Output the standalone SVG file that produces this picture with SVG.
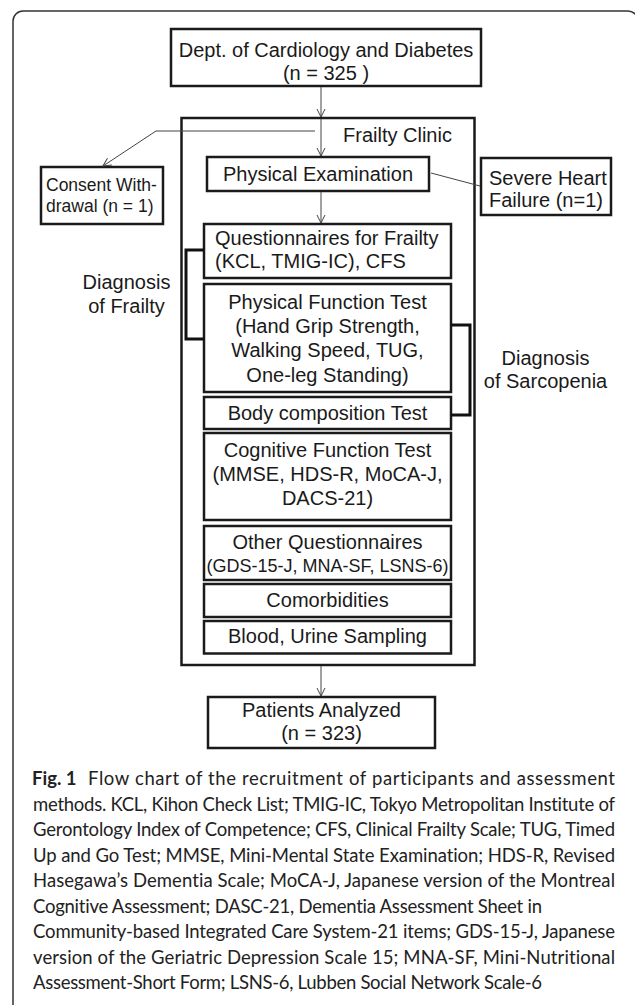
<svg xmlns="http://www.w3.org/2000/svg" width="635" height="1005" viewBox="0 0 635 1005">
<defs>
<marker id="arr" markerUnits="userSpaceOnUse" markerWidth="12" markerHeight="12" refX="9" refY="5" orient="auto"><path d="M1,1 L9,5 L1,9" fill="none" stroke="#444" stroke-width="1"/></marker>
</defs>
<style>
.box{fill:#fff;stroke:#1a1a1a;stroke-width:2.5}
.t{font-family:"Liberation Sans",Arial,sans-serif;font-size:20px;fill:#1a1a1a}
.s{font-size:17.5px}
.c{text-anchor:middle}
.ln{fill:none;stroke:#444;stroke-width:1}
.br{fill:none;stroke:#111;stroke-width:3}
.cap{font-family:Lato,"Open Sans",sans-serif;font-size:18.5px;fill:#222;font-variant-ligatures:none}
.b{font-weight:bold}
</style>
<rect x="0" y="0" width="635" height="1005" fill="#fff"/>
<rect id="frame" x="13" y="11" width="625" height="1030" rx="10" fill="none" stroke="#333" stroke-width="1.5"/>

<g id="frailty-clinic">
<rect class="box" x="181.5" y="118" width="293" height="547"/>
<text class="t" x="343" y="142">Frailty Clinic</text>
</g>

<g id="dept">
<rect class="box" x="171" y="29" width="310" height="57"/>
<text class="t c" x="326" y="57">Dept. of Cardiology and Diabetes</text>
<text class="t c" x="326" y="80">(n = 325 )</text>
</g>

<g id="consent">
<rect class="box" x="41" y="167" width="122" height="57"/>
<text class="t s" x="46" y="191">Consent With-</text>
<text class="t s" x="46" y="212">drawal (n = 1)</text>
</g>

<g id="physical-exam">
<rect class="box" x="207" y="157" width="222" height="34"/>
<text class="t c" x="318" y="181">Physical Examination</text>
</g>

<g id="severe">
<rect class="box" x="481" y="158" width="130" height="57"/>
<text class="t" x="489" y="185">Severe Heart</text>
<text class="t" x="489" y="207">Failure (n=1)</text>
</g>

<g id="questionnaires">
<rect class="box" x="204" y="224" width="247" height="54"/>
<text class="t" x="215" y="245">Questionnaires for Frailty</text>
<text class="t" x="215" y="268">(KCL, TMIG-IC), CFS</text>
</g>

<g id="physical-function">
<rect class="box" x="204" y="284" width="247" height="108"/>
<text class="t c" x="327.5" y="309">Physical Function Test</text>
<text class="t c" x="327.5" y="333">(Hand Grip Strength,</text>
<text class="t c" x="327.5" y="357">Walking Speed, TUG,</text>
<text class="t c" x="327.5" y="382">One-leg Standing)</text>
</g>

<g id="body-composition">
<rect class="box" x="204" y="397" width="247" height="32"/>
<text class="t c" x="327.5" y="420">Body composition Test</text>
</g>

<g id="cognitive">
<rect class="box" x="204" y="433" width="247" height="87"/>
<text class="t c" x="327.5" y="457">Cognitive Function Test</text>
<text class="t c" x="327.5" y="481">(MMSE, HDS-R, MoCA-J,</text>
<text class="t c" x="327.5" y="505">DACS-21)</text>
</g>

<g id="other-questionnaires">
<rect class="box" x="204" y="526" width="247" height="54"/>
<text class="t c" x="327.5" y="549">Other Questionnaires</text>
<text class="t c" x="327.5" y="572" style="font-size:18px">(GDS-15-J, MNA-SF, LSNS-6)</text>
</g>

<g id="comorbidities">
<rect class="box" x="204" y="584" width="247" height="33"/>
<text class="t c" x="327.5" y="607">Comorbidities</text>
</g>

<g id="blood">
<rect class="box" x="204" y="621" width="247" height="32.5"/>
<text class="t c" x="327.5" y="643">Blood, Urine Sampling</text>
</g>

<g id="patients">
<rect class="box" x="208" y="697" width="227" height="51"/>
<text class="t c" x="321.5" y="717">Patients Analyzed</text>
<text class="t c" x="321.5" y="740">(n = 323)</text>
</g>

<g id="diag-frailty">
<polyline class="br" points="204,250 186,250 186,339 204,339"/>
<text class="t c" x="126.5" y="289">Diagnosis</text>
<text class="t c" x="126.5" y="313">of Frailty</text>
</g>

<g id="diag-sarcopenia">
<polyline class="br" points="451,325 470,325 470,415 451,415"/>
<text class="t c" x="545.5" y="365">Diagnosis</text>
<text class="t c" x="545.5" y="388">of Sarcopenia</text>
</g>

<g id="connectors">
<line class="ln" x1="321" y1="87" x2="321" y2="117" marker-end="url(#arr)"/>
<line class="ln" x1="321" y1="119" x2="321" y2="156" marker-end="url(#arr)"/>
<line class="ln" x1="321" y1="192" x2="321" y2="223" marker-end="url(#arr)"/>
<line class="ln" x1="321" y1="666" x2="321" y2="696" marker-end="url(#arr)"/>
<polyline class="ln" points="315,131 156,131 103,166" marker-end="url(#arr)"/>
<line class="ln" x1="431" y1="173" x2="480" y2="186"/>
</g>

<g id="caption">
<text class="cap b" x="32" y="785">Fig. 1</text>
<text class="cap" x="88" y="785" textLength="527">Flow chart of the recruitment of participants and assessment</text>
<text class="cap" x="33" y="810.5" textLength="582">methods. KCL, Kihon Check List; TMIG-IC, Tokyo Metropolitan Institute of</text>
<text class="cap" x="33" y="836" textLength="582">Gerontology Index of Competence; CFS, Clinical Frailty Scale; TUG, Timed</text>
<text class="cap" x="33" y="861.5" textLength="582">Up and Go Test; MMSE, Mini-Mental State Examination; HDS-R, Revised</text>
<text class="cap" x="33" y="887" textLength="582">Hasegawa’s Dementia Scale; MoCA-J, Japanese version of the Montreal</text>
<text class="cap" x="33" y="912.5" textLength="509">Cognitive Assessment; DASC-21, Dementia Assessment Sheet in</text>
<text class="cap" x="33" y="938" textLength="582">Community-based Integrated Care System-21 items; GDS-15-J, Japanese</text>
<text class="cap" x="33" y="963.5" textLength="582">version of the Geriatric Depression Scale 15; MNA-SF, Mini-Nutritional</text>
<text class="cap" x="33" y="989" textLength="509">Assessment-Short Form; LSNS-6, Lubben Social Network Scale-6</text>
</g>
</svg>
